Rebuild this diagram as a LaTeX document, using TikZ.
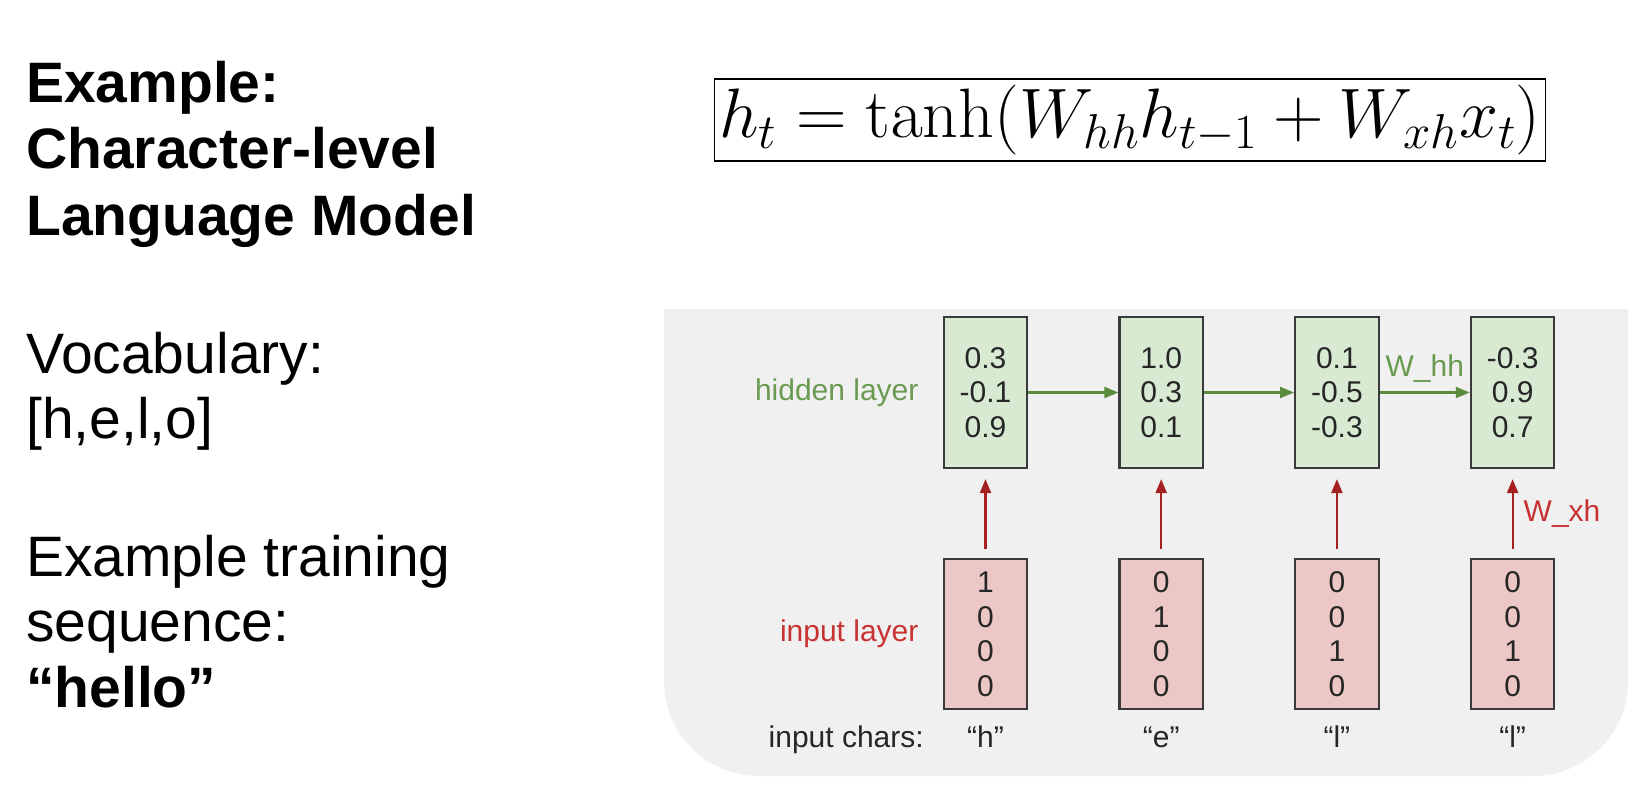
\RequirePackage{fix-cm}
\documentclass[tikz,border=0pt]{standalone}
\usepackage[no-math]{fontspec}
\newfontfamily\arial{Liberation Sans}
\usepackage{tikz}
\usetikzlibrary{arrows.meta,positioning}
\definecolor{panelCol}{HTML}{F0F0F0}
\definecolor{hidCol}{HTML}{D9EAD3}
\definecolor{inCol}{HTML}{EBC8C6}
\definecolor{boxEdge}{HTML}{3A3A3A}
\definecolor{hidEdge}{HTML}{5B8C3E}
\definecolor{hidText}{HTML}{6A9A50}
\definecolor{inEdge}{HTML}{A52020}
\definecolor{inText}{HTML}{C83232}
\tikzset{
  slide/.style={font=\arial\fontsize{57}{64}\selectfont, anchor=base west, inner sep=0pt},
  slideb/.style={slide, font=\arial\bfseries\fontsize{57}{64}\selectfont},
  vec/.style n args={2}{draw=boxEdge, fill=#1, line width=2.2pt, align=center,
        font=\arial\fontsize{30}{34.5}\selectfont, text=black!85,
        minimum width=83.5pt, minimum height=#2},
  lbl/.style={font=\arial\fontsize{30}{36}\selectfont, inner sep=0pt},
  chr/.style={lbl, text=black!85, text height=22pt, text depth=7pt},
  hh/.style={-{Triangle[length=14pt,width=11pt]}, line width=2.2pt, hidEdge},
  xh/.style={-{Triangle[length=14pt,width=11pt]}, line width=2.2pt, inEdge,
        shorten <=9pt, shorten >=10pt},
  eqbox/.style={draw, line width=1.8pt, minimum width=831pt, minimum height=82pt,
        font=\fontsize{70}{76}\selectfont},
}

\begin{document}
\begin{tikzpicture}[x=1pt, y=-1pt, node distance=89pt and 90pt]
  \path[use as bounding box, fill=white] (0,0) rectangle (1652,804);
  % left column text
  \node[slideb] (t1) at (26,102) {Example:};
  \node[slideb] (t2) at (26,168) {Character-level};
  \node[slideb] (t3) at (26,235) {Language Model};
  \node[slide] (v1) at (26,373) {Vocabulary:};
  \node[slide] (v2) at (26,438) {[h,e,l,o]};
  \node[slide] (s1) at (26,576) {Example training};
  \node[slide] (s2) at (26,641) {sequence:};
  \node[slideb] (s3) at (26,707) {“hello”};
  % recurrence
  \node[eqbox] (eq) at (1130,120) {$h_t = \tanh(W_{hh}h_{t-1} + W_{xh}x_t)$};
  % grey panel (bottom corners rounded)
  \fill[panelCol, rounded corners=95pt] (664,309) rectangle (1628,776);
  \fill[panelCol] (664,309) rectangle (1628,500);
  % hidden layer
  \node[vec={hidCol}{151pt}] (h1) at (985.5,392.5) {0.3\\-0.1\\0.9};
  \node[vec={hidCol}{151pt}, right=of h1] (h2) {1.0\\0.3\\0.1};
  \node[vec={hidCol}{151pt}, right=of h2] (h3) {0.1\\-0.5\\-0.3};
  \node[vec={hidCol}{151pt}, right=of h3] (h4) {-0.3\\0.9\\0.7};
  % input layer
  \node[vec={inCol}{150pt}, below=of h1] (i1) {1\\0\\0\\0};
  \node[vec={inCol}{150pt}, below=of h2] (i2) {0\\1\\0\\0};
  \node[vec={inCol}{150pt}, below=of h3] (i3) {0\\0\\1\\0};
  \node[vec={inCol}{150pt}, below=of h4] (i4) {0\\0\\1\\0};
  % chars
  \node[chr, below=15pt of i1] (c1) {“h”};
  \node[chr, below=15pt of i2] (c2) {“e”};
  \node[chr, below=15pt of i3] (c3) {“l”};
  \node[chr, below=15pt of i4] (c4) {“l”};
  % row labels
  \node[lbl, text=hidText, left=24pt of h1] (hl) {hidden layer};
  \node[lbl, text=inText, left=24pt of i1] (il) {input layer};
  \node[chr, left=43pt of c1] (cl) {input chars:};
  % edges
  \draw[hh] (h1) -- (h2); \draw[hh] (h2) -- (h3);
  \draw[hh] (h3) -- (h4) node[midway, above, lbl, inner sep=9pt, text=hidText]{W\_hh};
  \draw[xh] (i1) -- (h1); \draw[xh] (i2) -- (h2); \draw[xh] (i3) -- (h3);
  \draw[xh] (i4) -- (h4) node[midway, right, lbl, inner sep=10pt, text=inText]{W\_xh};
\end{tikzpicture}
\end{document}
